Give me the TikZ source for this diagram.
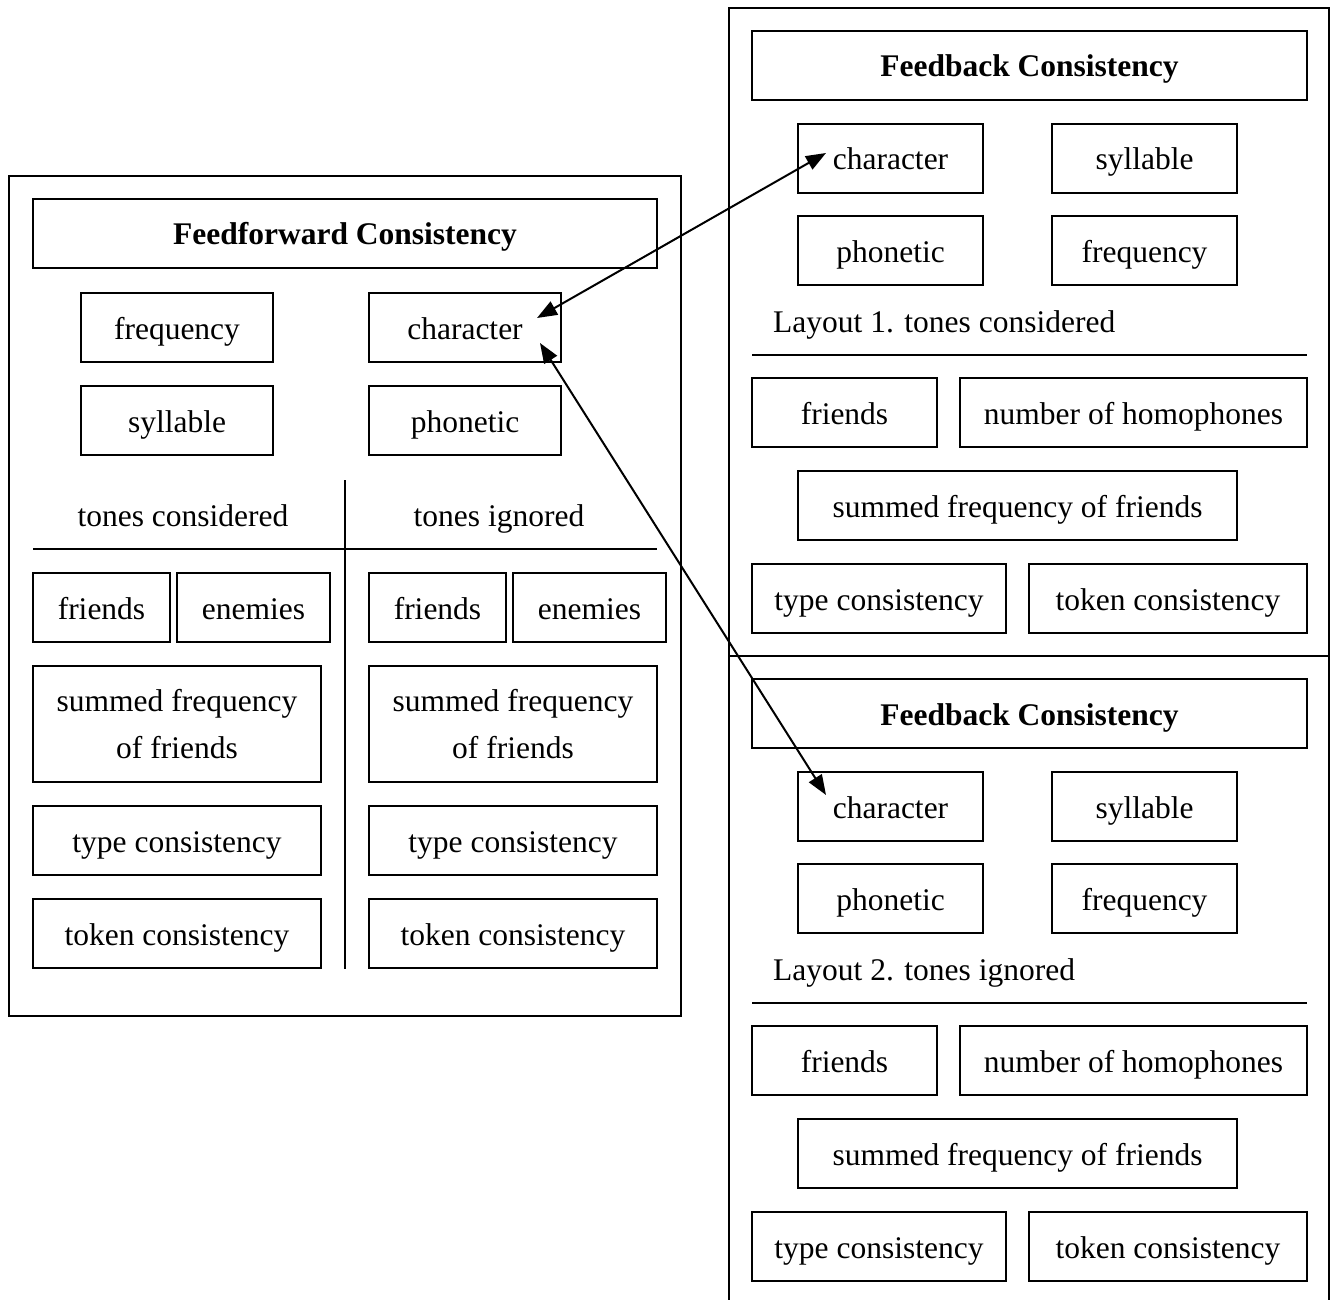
\documentclass[tikz,border=0pt]{standalone}
\usepackage{fontspec}
\setmainfont{Liberation Serif}
\usetikzlibrary{arrows.meta}
\tikzset{
  every node/.style={font=\fontsize{31.5}{38}\selectfont},
  bx/.style={draw, line width=1.8pt, inner sep=0pt, outer sep=0pt, anchor=north west,
             text height=25pt, text depth=2pt, align=center},
  bx2/.style={draw, line width=1.8pt, inner sep=0pt, outer sep=0pt, anchor=north west, align=center,
             font=\fontsize{31.5}{47}\selectfont},
  hd/.style={bx, font=\fontsize{31.5}{38}\selectfont\bfseries},
  lbl/.style={inner sep=0pt, text height=25pt, text depth=2pt},
  frame/.style={line width=1.8pt},
  biarrow/.style={line width=2pt, {Triangle[length=20pt,width=15pt]}-{Triangle[length=20pt,width=15pt]}}
}
\begin{document}
\begin{tikzpicture}[x=1pt,y=-1pt]
\useasboundingbox (0,0) rectangle (1339,1300);
% ---------- left panel ----------
\draw[frame] (9,176) rectangle (681,1016);
\node[hd, minimum width=624, minimum height=69] (ffhead) at (33,199) {Feedforward Consistency};
\node[bx, minimum width=192, minimum height=69] (ffreq) at (81,293) {frequency};
\node[bx, minimum width=192, minimum height=69] (fchar) at (369,293) {character};
\node[bx, minimum width=192, minimum height=69] (fsyll) at (81,386) {syllable};
\node[bx, minimum width=192, minimum height=69] (fphon) at (369,386) {phonetic};
\node[lbl] (tcons) at (183,515) {tones considered};
\node[lbl] (tign) at (499,515) {tones ignored};
\draw[frame] (345,480) -- (345,969);
\draw[frame] (33,549) -- (657,549);
\node[bx, minimum width=137, minimum height=69] (lfr1) at (33,573) {friends};
\node[bx, minimum width=153, minimum height=69] (len1) at (177,573) {enemies};
\node[bx, minimum width=137, minimum height=69] (lfr2) at (369,573) {friends};
\node[bx, minimum width=153, minimum height=69] (len2) at (513,573) {enemies};
\node[bx2, minimum width=288, minimum height=116] (lsum1) at (33,666) {summed frequency\\of friends};
\node[bx2, minimum width=288, minimum height=116] (lsum2) at (369,666) {summed frequency\\of friends};
\node[bx, minimum width=288, minimum height=69] (ltyp1) at (33,806) {type consistency};
\node[bx, minimum width=288, minimum height=69] (ltyp2) at (369,806) {type consistency};
\node[bx, minimum width=288, minimum height=69] (ltok1) at (33,899) {token consistency};
\node[bx, minimum width=288, minimum height=69] (ltok2) at (369,899) {token consistency};
% ---------- right panel ----------
\draw[frame] (729,1300) -- (729,8) -- (1329,8) -- (1329,1300);
\draw[frame] (729,656) -- (1329,656);
\foreach \oy/\p/\lay in {0/a/{Layout 1. tones considered}, 648/b/{Layout 2. tones ignored}}{
  \node[hd, minimum width=555, minimum height=69] (\p head) at (752,31+\oy) {Feedback Consistency};
  \node[bx, minimum width=185, minimum height=69] (\p char) at (798,124+\oy) {character};
  \node[bx, minimum width=185, minimum height=69] (\p syll) at (1052,124+\oy) {syllable};
  \node[bx, minimum width=185, minimum height=69] (\p phon) at (798,216+\oy) {phonetic};
  \node[bx, minimum width=185, minimum height=69] (\p freq) at (1052,216+\oy) {frequency};
  \node[lbl, anchor=west] (\p lay) at (773,321+\oy) {\lay};
  \draw[frame] (752,355+\oy) -- (1307,355+\oy);
  \node[bx, minimum width=185, minimum height=69] (\p fr) at (752,378+\oy) {friends};
  \node[bx, minimum width=347, minimum height=69] (\p hom) at (960,378+\oy) {number of homophones};
  \node[bx, minimum width=439, minimum height=69] (\p sum) at (798,471+\oy) {summed frequency of friends};
  \node[bx, minimum width=254, minimum height=69] (\p typ) at (752,564+\oy) {type consistency};
  \node[bx, minimum width=278, minimum height=69] (\p tok) at (1029,564+\oy) {token consistency};
}
% ---------- arrows ----------
\coordinate (p1) at (537,318);
\coordinate (q1) at (826,153);
\coordinate (p2) at (540,343);
\coordinate (q2) at (826,795);
\draw[biarrow] (p1) -- (q1);
\draw[biarrow] (p2) -- (q2);
\end{tikzpicture}
\end{document}
